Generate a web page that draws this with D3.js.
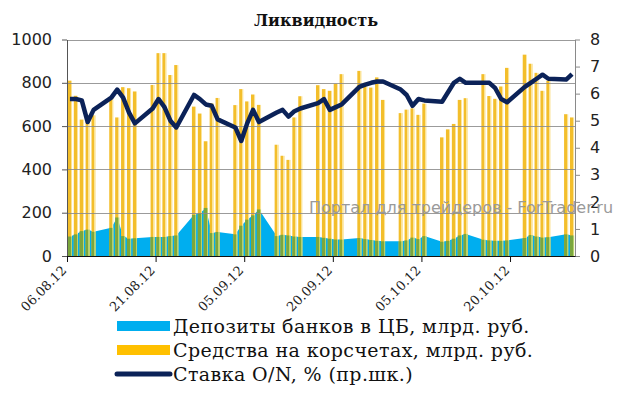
<!DOCTYPE html>
<html>
<head>
<meta charset="utf-8">
<script src="https://cdn.jsdelivr.net/npm/d3@7"></script>
<style>
  body { margin: 0; background: #fff; }
  svg { display: block; }
</style>
</head>
<body>
<script>
// business days, Aug 6 - Oct 30 2012
const dates = [
  "06.08.12", "07.08.12", "08.08.12", "09.08.12", "10.08.12",
  "13.08.12", "14.08.12", "15.08.12", "16.08.12", "17.08.12",
  "20.08.12", "21.08.12", "22.08.12", "23.08.12", "24.08.12",
  "27.08.12", "28.08.12", "29.08.12", "30.08.12", "31.08.12",
  "03.09.12", "04.09.12", "05.09.12", "06.09.12", "07.09.12",
  "10.09.12", "11.09.12", "12.09.12", "13.09.12", "14.09.12",
  "17.09.12", "18.09.12", "19.09.12", "20.09.12", "21.09.12",
  "24.09.12", "25.09.12", "26.09.12", "27.09.12", "28.09.12",
  "01.10.12", "02.10.12", "03.10.12", "04.10.12", "05.10.12",
  "08.10.12", "09.10.12", "10.10.12", "11.10.12", "12.10.12",
  "15.10.12", "16.10.12", "17.10.12", "18.10.12", "19.10.12",
  "22.10.12", "23.10.12", "24.10.12", "25.10.12", "26.10.12",
  "29.10.12", "30.10.12",
];

// Депозиты банков в ЦБ, млрд. руб.
const deposits = [
  90, 100, 115, 122, 112,
  130, 178, 92, 80, 82,
  88, 88, 88, 92, 95,
  190, 198, 222, 106, 111,
  100, 140, 168, 188, 215,
  92, 98, 95, 90, 88,
  88, 84, 80, 76, 76,
  83, 78, 74, 70, 68,
  68, 72, 85, 78, 92,
  66, 70, 80, 95, 102,
  75, 72, 70, 70, 72,
  83, 97, 90, 85, 87,
  100, 95,
];

// Средства на корсчетах, млрд. руб.
const accounts = [
  810, 740, 630, 620, 650,
  730, 640, 780, 775, 760,
  790, 937, 937, 836, 882,
  690, 658, 530, 706, 730,
  697, 771, 714, 746, 698,
  514, 463, 444, 640, 738,
  789, 771, 763, 795, 840,
  855, 800, 778, 825, 721,
  660, 676, 682, 652, 704,
  548, 585, 610, 721, 729,
  840, 739, 726, 783, 869,
  930, 888, 846, 763, 810,
  655, 640,
];

// Ставка O/N, %
const rate = [
  5.8, 5.8, 5.75, 4.95, 5.4,
  5.85, 6.15, 5.85, 5.3, 4.9,
  5.45, 5.8, 5.5, 5.0, 4.75,
  5.95, 5.8, 5.6, 5.55, 5.05,
  4.75, 4.25, 4.9, 5.4, 4.95,
  5.3, 5.4, 5.15, 5.35, 5.45,
  5.65, 5.8, 5.4, 5.5, 5.6,
  6.25, 6.33, 6.4, 6.45, 6.45,
  6.15, 5.95, 5.55, 5.8, 5.75,
  5.7, 6.05, 6.4, 6.55, 6.4,
  6.4, 6.4, 6.2, 5.8, 5.68,
  6.25, 6.4, 6.55, 6.7, 6.55,
  6.52, 6.72,
];

const tickDates = ["06.08.12", "21.08.12", "05.09.12", "20.09.12", "05.10.12", "20.10.12"];
const leftTicks = [0, 200, 400, 600, 800, 1000];
const rightTicks = [0, 1, 2, 3, 4, 5, 6, 7, 8];
const legendLabels = [
  "Депозиты банков в ЦБ, млрд. руб.",
  "Средства на корсчетах, млрд. руб.",
  "Ставка O/N, % (пр.шк.)",
];

const width = 625;
const height = 394;
const plotLeft = 67;
const plotRight = 575;
const plotTop = 39.5;
const plotBottom = 256;

const blue = "#00aeef";
const yellow = "#ffc000";
const navy = "#0b2258";

const parse = d3.utcParse("%d.%m.%y");
const rows = dates.map((d, i) => ({
  date: parse(d),
  dep: deposits[i],
  acc: accounts[i],
  rate: rate[i],
}));

const x = d3
  .scaleUtc()
  .domain([parse("06.08.12"), parse("31.10.12")])
  .range([plotLeft, plotRight]);
const xc = (d) => x(d3.utcHour.offset(d, 12));
const dayW = x(parse("07.08.12")) - x(parse("06.08.12"));
const barW = dayW * 0.7;

const yL = d3.scaleLinear().domain([0, 1000]).range([plotBottom, plotTop]);
const yR = d3.scaleLinear().domain([0, 8]).range([plotBottom, plotTop]);

const svg = d3
  .select("body")
  .append("svg")
  .attr("width", width)
  .attr("height", height)
  .attr("viewBox", `0 0 ${width} ${height}`);

const defs = svg.append("defs");
const grad = (id, a, b) => {
  const g = defs.append("linearGradient").attr("id", id).attr("x1", 0).attr("x2", 1).attr("y1", 0).attr("y2", 0);
  g.append("stop").attr("offset", 0).attr("stop-color", a);
  g.append("stop").attr("offset", 0.68).attr("stop-color", a);
  g.append("stop").attr("offset", 0.68).attr("stop-color", b);
  g.append("stop").attr("offset", 1).attr("stop-color", b);
};
grad("barGrad", "#f3be2b", "#fbe396");
grad("mixGrad", "#7ba63d", "#b5d16c");

// deposits area
svg
  .append("path")
  .datum(rows)
  .attr("fill", blue)
  .attr("d", d3.area().x((d) => xc(d.date)).y0(plotBottom).y1((d) => yL(d.dep)));

// correspondent accounts bars
svg
  .append("g")
  .selectAll("rect")
  .data(rows)
  .join("rect")
  .attr("x", (d) => xc(d.date) - barW / 2)
  .attr("width", barW)
  .attr("y", (d) => yL(d.acc))
  .attr("height", (d) => plotBottom - yL(d.acc))
  .attr("fill", "url(#barGrad)");

// overlap of bars with the area
svg
  .append("g")
  .selectAll("rect")
  .data(rows)
  .join("rect")
  .attr("x", (d) => xc(d.date) - barW / 2)
  .attr("width", barW)
  .attr("y", (d) => yL(d.dep))
  .attr("height", (d) => plotBottom - yL(d.dep))
  .attr("fill", "url(#mixGrad)");

// gridlines
svg
  .append("g")
  .selectAll("line")
  .data(leftTicks.slice(1))
  .join("line")
  .attr("x1", plotLeft)
  .attr("x2", plotRight)
  .attr("y1", (d) => Math.round(yL(d)) + 0.5)
  .attr("y2", (d) => Math.round(yL(d)) + 0.5)
  .attr("stroke", "#8a8a8a")
  .attr("stroke-opacity", 0.85);

// axes
const leftAxis = svg
  .append("g")
  .attr("transform", `translate(${plotLeft} 0)`)
  .call(
    d3
      .axisLeft(yL)
      .tickValues(leftTicks)
      .tickFormat(d3.format("d"))
      .tickSize(5)
      .tickSizeOuter(0)
      .tickPadding(10)
  );
leftAxis.select(".domain").attr("stroke", "#555");
leftAxis.selectAll(".tick line").attr("stroke", "#555");
leftAxis
  .selectAll("text")
  .attr("font-family", "DejaVu Sans")
  .attr("font-size", 16)
  .attr("fill", "#222");

const rightAxis = svg
  .append("g")
  .attr("transform", `translate(${plotRight} 0)`)
  .call(d3.axisRight(yR).tickValues(rightTicks).tickSize(5).tickSizeOuter(0).tickPadding(10));
rightAxis.select(".domain").attr("stroke", "#8a8a8a");
rightAxis.selectAll(".tick line").attr("stroke", "#8a8a8a");
rightAxis
  .selectAll("text")
  .attr("font-family", "DejaVu Sans")
  .attr("font-size", 16)
  .attr("fill", "#222");

const xAxis = svg
  .append("g")
  .attr("transform", `translate(0 ${plotBottom})`)
  .call(
    d3
      .axisBottom(x)
      .tickValues(tickDates.map(parse))
      .tickFormat("")
      .tickSize(6)
      .tickSizeOuter(0)
  );
xAxis.select(".domain").attr("stroke", "#111");
xAxis.selectAll(".tick line").attr("stroke", "#111");

// rotated date labels
svg
  .append("g")
  .selectAll("text")
  .data(tickDates)
  .join("text")
  .attr("transform", (d) => `translate(${x(parse(d)) - 3} ${plotBottom + 12}) rotate(-45)`)
  .attr("text-anchor", "end")
  .attr("dy", "0.35em")
  .attr("font-family", "DejaVu Serif")
  .attr("font-size", 13)
  .attr("fill", "#222")
  .text((d) => d);

// O/N rate line
svg
  .append("path")
  .datum(rows)
  .attr("fill", "none")
  .attr("stroke", navy)
  .attr("stroke-width", 4.5)
  .attr("stroke-linejoin", "round")
  .attr("d", d3.line().x((d) => xc(d.date)).y((d) => yR(d.rate)));

// watermark
svg
  .append("text")
  .attr("x", 309)
  .attr("y", 213)
  .attr("font-family", "DejaVu Sans")
  .attr("font-size", 16)
  .attr("fill", "#9a9a9a")
  .text("Портал для трейдеров - ForTrader.ru");

// title
svg
  .append("text")
  .attr("x", 316)
  .attr("y", 26)
  .attr("text-anchor", "middle")
  .attr("font-family", "DejaVu Serif")
  .attr("font-weight", "bold")
  .attr("font-size", 16)
  .attr("fill", "#111")
  .text("Ликвидность");

// legend
const legend = svg.append("g").attr("transform", "translate(117 326)");
const rowH = 24;
legend.append("rect").attr("x", 0).attr("y", -5).attr("width", 53).attr("height", 10).attr("fill", blue);
legend.append("rect").attr("x", 0).attr("y", rowH - 5).attr("width", 53).attr("height", 10).attr("fill", yellow);
legend
  .append("line")
  .attr("x1", 0)
  .attr("x2", 53)
  .attr("y1", rowH * 2)
  .attr("y2", rowH * 2)
  .attr("stroke", navy)
  .attr("stroke-width", 5)
  .attr("stroke-linecap", "round");
legend
  .selectAll("text")
  .data(legendLabels)
  .join("text")
  .attr("x", 56)
  .attr("y", (d, i) => i * rowH)
  .attr("dy", "0.35em")
  .attr("font-family", "DejaVu Serif")
  .attr("font-size", 19)
  .attr("letter-spacing", 0.4)
  .attr("fill", "#111")
  .text((d) => d);
</script>
</body>
</html>
